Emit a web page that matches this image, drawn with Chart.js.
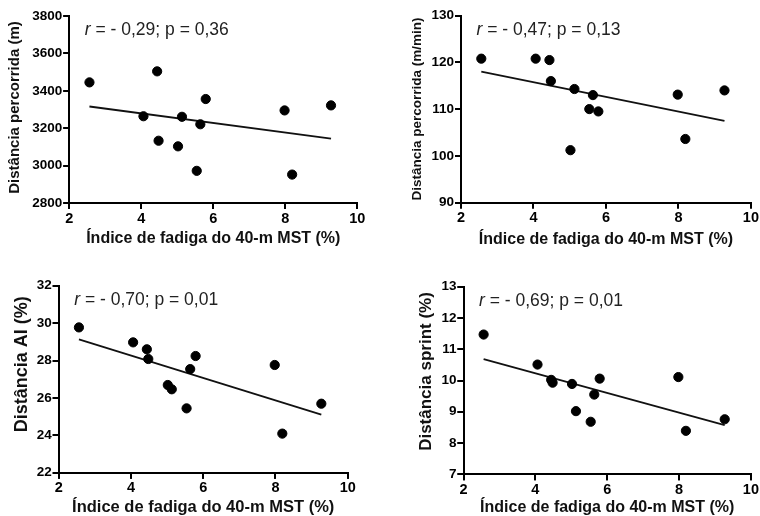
<!DOCTYPE html>
<html>
<head>
<meta charset="utf-8">
<script src="https://cdn.jsdelivr.net/npm/chart.js@4"></script>
<style>
  html, body { margin: 0; padding: 0; background: #fff; }
  #wrap { position: relative; width: 760px; height: 516px; overflow: hidden; }
  canvas { position: absolute; }
</style>
</head>
<body>
<div id="wrap">
  <canvas id="c1" width="380" height="250" style="left:0;top:0"></canvas>
  <canvas id="c2" width="380" height="250" style="left:380px;top:0"></canvas>
  <canvas id="c3" width="380" height="266" style="left:0;top:250px"></canvas>
  <canvas id="c4" width="380" height="266" style="left:380px;top:250px"></canvas>
</div>
<script>
// fatigue index (x) shared by all four panels
const fatigueIndex = [2.56, 4.06, 4.44, 4.48, 5.02, 5.13, 5.54, 5.64, 5.79, 7.98, 8.19, 9.27];

const distanceM      = [3445, 3264, 3504, 3133, 3103, 3261, 2972, 3221, 3356, 3295, 2952, 3322];
const distanceMMin   = [120.8, 120.8, 120.5, 116.0, 101.2, 114.3, 110.0, 113.0, 109.5, 113.1, 103.6, 114.0];
const distanceAI     = [29.77, 28.97, 28.6, 28.08, 26.69, 26.46, 25.44, 27.54, 28.24, 27.76, 24.09, 25.69];
const distanceSprint = [11.47, 10.51, 10.02, 9.93, 9.89, 9.02, 8.68, 9.55, 10.06, 10.11, 8.39, 8.76];

// regression line end points
const fitX         = [2.56, 9.27];
const fitM         = [3316, 3144];
const fitMMin      = [118.0, 107.5];
const fitAI        = [29.13, 25.1];
const fitSprint    = [10.68, 8.57];

const statTexts = [' = - 0,29; p = 0,36', ' = - 0,47; p = 0,13', ' = - 0,70; p = 0,01', ' = - 0,69; p = 0,01'];
const yTitles = ['Distância percorrida (m)', 'Distância percorrida (m/min)', 'Distância AI (%)', 'Distância sprint (%)'];
const xTitle = 'Índice de fadiga do 40-m MST (%)';

const FONT = 'Arial, "Liberation Sans", Helvetica, sans-serif';
const TICK_LEN = 6;

// draws the r / p text in the top left of the plot
const statPlugin = {
  id: 'statText',
  afterDraw(chart, args, opts) {
    const ctx = chart.ctx;
    const a = chart.chartArea;
    const x = a.left + 15.5, y = a.top + 14.5;
    ctx.save();
    ctx.fillStyle = '#222';
    ctx.textBaseline = 'middle';
    ctx.textAlign = 'left';
    ctx.font = 'italic 17.5px ' + FONT;
    ctx.fillText('r', x, y);
    const w = ctx.measureText('r').width;
    ctx.font = '17.5px ' + FONT;
    ctx.fillText(opts.text, x + w, y);
    ctx.restore();
  }
};

// rotated y axis title, placed by hand so it can sit off-centre like the original
const yTitlePlugin = {
  id: 'yTitle',
  afterDraw(chart, args, opts) {
    const ctx = chart.ctx;
    const a = chart.chartArea;
    ctx.save();
    ctx.translate(opts.x, (a.top + a.bottom) / 2 + opts.dy);
    ctx.rotate(-Math.PI / 2);
    ctx.fillStyle = '#111';
    ctx.textAlign = 'center';
    ctx.textBaseline = 'middle';
    ctx.font = 'bold ' + opts.size + 'px ' + FONT;
    ctx.fillText(opts.text, 0, 0);
    ctx.restore();
  }
};

// outward tick marks on both axes (at the scale's own tick positions)
const tickMarkPlugin = {
  id: 'tickMarks',
  afterDraw(chart) {
    const ctx = chart.ctx;
    const a = chart.chartArea;
    const xs = chart.scales.x, ys = chart.scales.y;
    ctx.save();
    ctx.strokeStyle = '#000';
    ctx.lineWidth = 2;
    ctx.beginPath();
    xs.ticks.forEach(t => {
      const px = Math.round(xs.getPixelForValue(t.value));
      ctx.moveTo(px, a.bottom);
      ctx.lineTo(px, a.bottom + TICK_LEN);
    });
    ys.ticks.forEach(t => {
      const py = Math.round(ys.getPixelForValue(t.value));
      ctx.moveTo(a.left, py);
      ctx.lineTo(a.left - TICK_LEN, py);
    });
    ctx.stroke();
    ctx.restore();
  }
};

function makeChart(id, p) {
  const canvas = document.getElementById(id);
  const W = canvas.width, H = canvas.height;
  const axisGrid = () => ({
    display: true, drawOnChartArea: false, drawTicks: true, tickLength: TICK_LEN,
    color: '#000', lineWidth: 2
  });
  const axisBorder = () => ({ display: true, color: '#000', width: 2 });

  new Chart(canvas, {
    type: 'scatter',
    data: {
      datasets: [
        {
          data: fatigueIndex.map((x, i) => ({ x: x, y: p.values[i] })),
          backgroundColor: '#000',
          borderColor: '#000',
          pointRadius: 4.6,
          pointHoverRadius: 4.6
        },
        {
          type: 'line',
          data: fitX.map((x, i) => ({ x: x, y: p.fit[i] })),
          borderColor: '#111',
          borderWidth: 1.8,
          pointRadius: 0,
          fill: false
        }
      ]
    },
    options: {
      responsive: false,
      animation: false,
      events: [],
      layout: { padding: { left: 0, top: p.area.top, right: W - p.area.right, bottom: 0 } },
      plugins: {
        legend: { display: false },
        tooltip: { enabled: false },
        statText: { text: p.stat },
        yTitle: { text: p.yTitle, x: p.yTitleX, dy: p.yTitleDy, size: p.yTitleSize }
      },
      scales: {
        x: {
          type: 'linear',
          min: 2, max: 10,
          ticks: {
            stepSize: 2, color: '#000', padding: 1,
            font: { family: FONT, size: 14.5, weight: 'bold' },
            callback: v => String(v)
          },
          grid: axisGrid(),
          border: axisBorder(),
          title: {
            display: true, text: xTitle, color: '#111',
            font: { family: FONT, size: p.xTitleSize, weight: 'bold', lineHeight: 1 },
            padding: { top: 0, bottom: p.xTitlePad }
          },
          afterFit: s => { s.height = H - p.area.bottom; }
        },
        y: {
          type: 'linear',
          min: p.yMin, max: p.yMax,
          ticks: {
            stepSize: p.yStep, color: '#000', padding: 1,
            font: { family: FONT, size: p.yTickSize, weight: 'bold' },
            callback: v => String(v)
          },
          grid: axisGrid(),
          border: axisBorder(),
          afterFit: s => { s.width = p.area.left; }
        }
      }
    },
    plugins: [tickMarkPlugin, statPlugin, yTitlePlugin]
  });
}

makeChart('c1', {
  values: distanceM, fit: fitM, stat: statTexts[0],
  yMin: 2800, yMax: 3800, yStep: 200, yTickSize: 13.5,
  area: { left: 69.3, top: 16, right: 357.3, bottom: 203 },
  yTitle: yTitles[0], yTitleX: 15, yTitleDy: -2, yTitleSize: 15,
  xTitleSize: 16, xTitlePad: 3
});
makeChart('c2', {
  values: distanceMMin, fit: fitMMin, stat: statTexts[1],
  yMin: 90, yMax: 130, yStep: 10, yTickSize: 13.5,
  area: { left: 81, top: 15.7, right: 371.5, bottom: 202.5 },
  yTitle: yTitles[1], yTitleX: 37.3, yTitleDy: 0, yTitleSize: 13.5,
  xTitleSize: 16, xTitlePad: 2
});
makeChart('c3', {
  values: distanceAI, fit: fitAI, stat: statTexts[2],
  yMin: 22, yMax: 32, yStep: 2, yTickSize: 13.5,
  area: { left: 58.7, top: 35.7, right: 347.7, bottom: 222.7 },
  yTitle: yTitles[2], yTitleX: 21.7, yTitleDy: -15, yTitleSize: 18,
  xTitleSize: 16.5, xTitlePad: 0.5
});
makeChart('c4', {
  values: distanceSprint, fit: fitSprint, stat: statTexts[3],
  yMin: 7, yMax: 13, yStep: 1, yTickSize: 13.5,
  area: { left: 83.5, top: 36.7, right: 372.7, bottom: 224.3 },
  yTitle: yTitles[3], yTitleX: 46.7, yTitleDy: -9, yTitleSize: 17,
  xTitleSize: 16, xTitlePad: 0.2
});
</script>
</body>
</html>
